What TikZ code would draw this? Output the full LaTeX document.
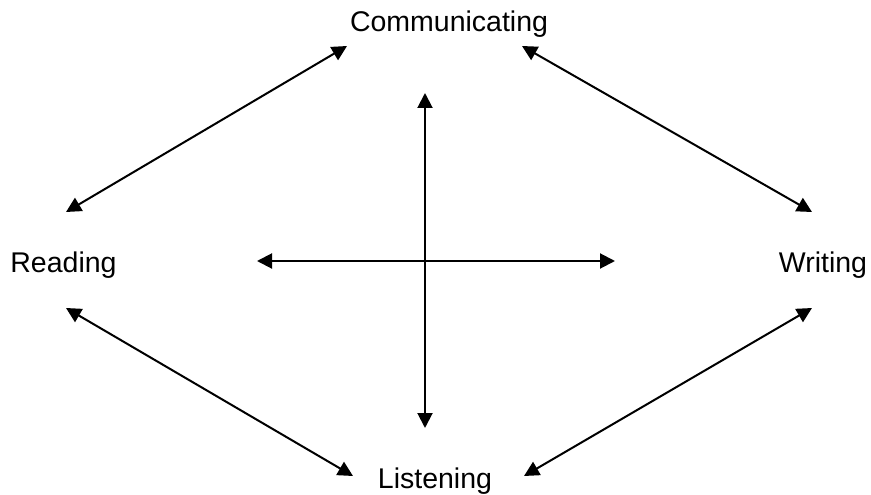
\documentclass[tikz,border=0pt]{standalone}
\usepackage{fontspec}
\setmainfont{Liberation Sans}
\usetikzlibrary{arrows.meta}
\begin{document}
\begin{tikzpicture}[x=1pt,y=-1pt,
  lbl/.style={font=\fontsize{28.5}{33}\selectfont, inner sep=0pt, anchor=base},
  link/.style={line width=2pt, {Triangle[length=15pt,width=15pt]}-{Triangle[length=15pt,width=15pt]}}]
\useasboundingbox (0,0) rectangle (871,495);
\node[lbl] (comm) at (449,32) {Communicating};
\node[lbl] (read) at (63.5,272) {Reading};
\node[lbl] (writ) at (823,272) {Writing};
\node[lbl] (list) at (435,488) {Listening};
\coordinate (c1) at (347,46);
\coordinate (c2) at (522,46);
\coordinate (r1) at (66,212);
\coordinate (r2) at (66,308);
\coordinate (w1) at (812,212);
\coordinate (w2) at (812,308);
\coordinate (l1) at (353,476);
\coordinate (l2) at (524,476);
\coordinate (vt) at (425,93);
\coordinate (vb) at (425,428);
\coordinate (hl) at (257,261);
\coordinate (hr) at (615,261);
\draw[link] (c1) -- (r1);
\draw[link] (c2) -- (w1);
\draw[link] (r2) -- (l1);
\draw[link] (w2) -- (l2);
\draw[link] (vt) -- (vb);
\draw[link] (hl) -- (hr);
\end{tikzpicture}
\end{document}
